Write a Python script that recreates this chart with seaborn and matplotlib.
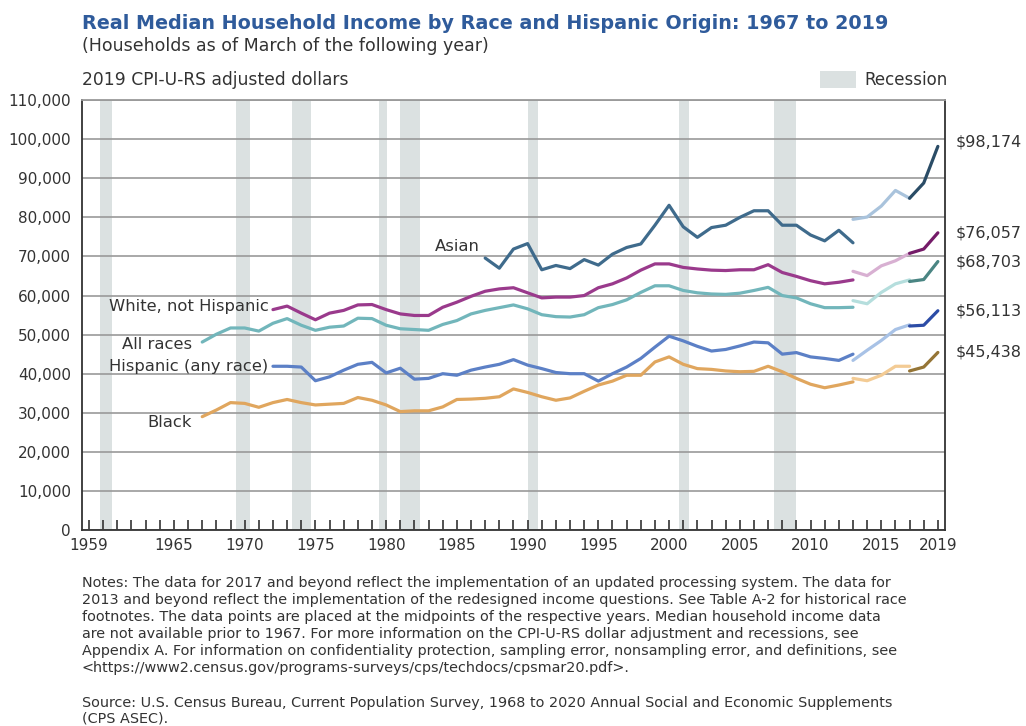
import numpy as np
import pandas as pd
import seaborn as sns
import matplotlib.pyplot as plt
from matplotlib.patches import Rectangle

# Data (2019 CPI-U-RS adjusted dollars, thousands)
years_all = list(range(1967, 2014))      # All races, Black: 1967-2013 (old)
years_wh = list(range(1972, 2014))       # White not Hispanic, Hispanic: 1972-2013
years_asian = list(range(1987, 2014))    # Asian: 1987-2013
years_mid = list(range(2013, 2018))      # redesigned questions 2013-2017
years_new = list(range(2017, 2020))      # updated processing 2017-2019

all_races = [48.1, 50.1, 51.7, 51.7, 50.9, 52.9, 54.1, 52.4, 51.1, 51.9,
             52.2, 54.2, 54.1, 52.4, 51.5, 51.3, 51.1, 52.6, 53.6, 55.3,
             56.2, 56.9, 57.6, 56.6, 55.1, 54.6, 54.5, 55.1, 56.9, 57.7,
             58.9, 60.8, 62.5, 62.5, 61.3, 60.7, 60.4, 60.3, 60.6, 61.3,
             62.1, 60.0, 59.4, 57.9, 56.9, 56.9, 57.0]
black = [29.0, 30.7, 32.6, 32.4, 31.4, 32.6, 33.4, 32.6, 32.0, 32.2,
         32.4, 33.9, 33.2, 32.0, 30.3, 30.5, 30.5, 31.5, 33.4, 33.5,
         33.7, 34.1, 36.1, 35.2, 34.1, 33.2, 33.8, 35.5, 37.1, 38.1,
         39.6, 39.6, 43.0, 44.3, 42.4, 41.3, 41.1, 40.7, 40.5, 40.6,
         41.9, 40.5, 38.8, 37.3, 36.4, 37.1, 37.9]
white_nh = [56.4, 57.3, 55.5, 53.8, 55.5, 56.2, 57.6, 57.7, 56.4, 55.3,
            54.9, 54.9, 57.0, 58.3, 59.8, 61.1, 61.7, 62.0, 60.7, 59.4,
            59.6, 59.6, 60.0, 62.0, 63.0, 64.5, 66.5, 68.1, 68.1, 67.2,
            66.8, 66.5, 66.4, 66.6, 66.6, 67.9, 65.9, 64.9, 63.8, 63.0,
            63.4, 64.0]
hispanic = [41.9, 41.9, 41.7, 38.2, 39.2, 40.9, 42.4, 42.9, 40.2, 41.4,
            38.6, 38.8, 40.0, 39.6, 40.9, 41.7, 42.4, 43.6, 42.2, 41.3,
            40.3, 40.0, 40.0, 38.1, 40.0, 41.7, 43.9, 46.8, 49.6, 48.4,
            47.0, 45.8, 46.2, 47.1, 48.1, 47.9, 45.0, 45.4, 44.3, 43.9,
            43.4, 45.0]
asian = [69.6, 67.0, 71.9, 73.3, 66.6, 67.7, 66.9, 69.2, 67.8, 70.6,
         72.3, 73.2, 78.0, 83.1, 77.6, 74.9, 77.4, 78.0, 80.0, 81.7,
         81.7, 78.0, 78.0, 75.5, 74.0, 76.7, 73.5]

all_races_mid = [58.7, 57.9, 60.8, 63.0, 64.0]
black_mid = [38.8, 38.2, 39.6, 41.9, 41.9]
white_nh_mid = [66.2, 65.1, 67.6, 68.9, 70.8]
hispanic_mid = [43.4, 46.0, 48.5, 51.3, 52.5]
asian_mid = [79.5, 80.1, 82.9, 86.9, 84.9]

all_races_new = [63.6, 64.1, 68.703]
black_new = [40.7, 41.7, 45.438]
white_nh_new = [70.8, 71.9, 76.057]
hispanic_new = [52.2, 52.4, 56.113]
asian_new = [84.9, 88.8, 98.174]

# recession periods (start, end) in fractional years
recessions = [(1960.25, 1961.1), (1969.92, 1970.9), (1973.85, 1975.2),
              (1980.0, 1980.55), (1981.5, 1982.9), (1990.55, 1991.2),
              (2001.2, 2001.9), (2007.92, 2009.5)]

end_labels = ["$98,174", "$76,057", "$68,703", "$56,113", "$45,438"]

# colors: (old, 2013-2017, 2017-2019)
colors = {
    "Asian": ("#3f6b8c", "#a9c3dc", "#2a4c66"),
    "White": ("#9a3a8c", "#d8b0d2", "#741b68"),
    "All": ("#72b6bb", "#b5dedd", "#4a8583"),
    "Hispanic": ("#5c80c6", "#a8c2e6", "#2c4ca6"),
    "Black": ("#e0a65e", "#f3cb94", "#957536"),
}

series = {
    "Asian": (years_asian, asian, asian_mid, asian_new),
    "White": (years_wh, white_nh, white_nh_mid, white_nh_new),
    "All": (years_all, all_races, all_races_mid, all_races_new),
    "Hispanic": (years_wh, hispanic, hispanic_mid, hispanic_new),
    "Black": (years_all, black, black_mid, black_new),
}

sns.set_style("white")
plt.rcParams['font.family'] = ['DejaVu Sans']
text_col = "#333333"

fig = plt.figure(figsize=(10.26, 7.26), dpi=100)
ax = fig.add_axes([0.0799, 0.270, 0.8411, 0.592])

for a, b in recessions:
    ax.axvspan(a, b, color="#dbe1e1", lw=0, zorder=0)

for key, (yrs, old, mid, new) in series.items():
    c_old, c_mid, c_new = colors[key]
    segs = [(yrs, old, c_old), (years_mid, mid, c_mid), (years_new, new, c_new)]
    for yy, vals, col in segs:
        df = pd.DataFrame({"year": np.array(yy) + 0.5,
                           "income": np.array(vals) * 1000})
        sns.lineplot(data=df, x="year", y="income", color=col, lw=2.3,
                     ax=ax, zorder=3)

ax.set_xlim(1959, 2020)
ax.set_ylim(0, 110000)
ax.set_yticks(range(0, 110001, 10000))
ax.set_yticklabels([f"{v:,}" for v in range(0, 110001, 10000)],
                   fontsize=11, color=text_col)
ax.yaxis.grid(True, color="#9a9a9a", lw=1.2, zorder=1)
ax.tick_params(axis="y", length=0, pad=8)

label_years = [1959, 1965, 1970, 1975, 1980, 1985, 1990, 1995, 2000, 2005,
               2010, 2015, 2019]
ax.set_xticks([y + 0.5 for y in range(1959, 2020)])
ax.set_xticklabels([str(y) if y in label_years else "" for y in range(1959, 2020)],
                   fontsize=11, color=text_col)
ax.tick_params(axis="x", bottom=True, direction="in", length=7, width=1.2,
               color="#333333", pad=6)
ax.set_xlabel("")
ax.set_ylabel("")

for side in ["left", "bottom", "right"]:
    ax.spines[side].set_color("#333333")
    ax.spines[side].set_linewidth(1.3)
ax.spines["top"].set_color("#9a9a9a")
ax.spines["top"].set_linewidth(1.3)

# series labels
lab = dict(fontsize=11.8, color=text_col, va="center")
ax.text(1987.1, 72500, "Asian", ha="right", **lab)
ax.text(1972.2, 57200, "White, not Hispanic", ha="right", **lab)
ax.text(1966.8, 47500, "All races", ha="right", **lab)
ax.text(1972.2, 41900, "Hispanic (any race)", ha="right", **lab)
ax.text(1966.8, 27600, "Black", ha="right", **lab)

# end value labels
for txt, v in zip(end_labels, [98174, 76057, 68703, 56113, 45438]):
    yv = v
    if txt == "$98,174":
        yv = 99300
    ax.text(1.012, yv / 110000, txt, transform=ax.transAxes, fontsize=11.5,
            color=text_col, va="center", ha="left")

# titles
fig.text(0.0799, 0.968, "Real Median Household Income by Race and Hispanic Origin: 1967 to 2019",
         fontsize=13.8, fontweight="bold", color="#2f5b9b", va="center")
fig.text(0.0799, 0.936, "(Households as of March of the following year)",
         fontsize=12.5, color=text_col, va="center")
fig.text(0.0799, 1 - 80 / 726, "2019 CPI-U-RS adjusted dollars",
         fontsize=12.3, color=text_col, va="center")

# recession legend
fig.patches.append(Rectangle((820 / 1026, 1 - 88 / 726), 36 / 1026, 17 / 726,
                             transform=fig.transFigure, color="#dbe1e1", lw=0))
fig.text(864 / 1026, 1 - 80 / 726, "Recession", fontsize=12, color=text_col,
         va="center")

notes = ("Notes: The data for 2017 and beyond reflect the implementation of an updated processing system. The data for\n"
         "2013 and beyond reflect the implementation of the redesigned income questions. See Table A-2 for historical race\n"
         "footnotes. The data points are placed at the midpoints of the respective years. Median household income data\n"
         "are not available prior to 1967. For more information on the CPI-U-RS dollar adjustment and recessions, see\n"
         "Appendix A. For information on confidentiality protection, sampling error, nonsampling error, and definitions, see\n"
         "<https://www2.census.gov/programs-surveys/cps/techdocs/cpsmar20.pdf>.")
fig.text(0.0799, 1 - 576 / 726, notes, fontsize=10.4, color=text_col, va="top",
         linespacing=1.27)
fig.text(0.0799, 1 - 696 / 726,
         "Source: U.S. Census Bureau, Current Population Survey, 1968 to 2020 Annual Social and Economic Supplements\n(CPS ASEC).",
         fontsize=10.4, color=text_col, va="top", linespacing=1.14)

fig.savefig("out.png", dpi=100)
